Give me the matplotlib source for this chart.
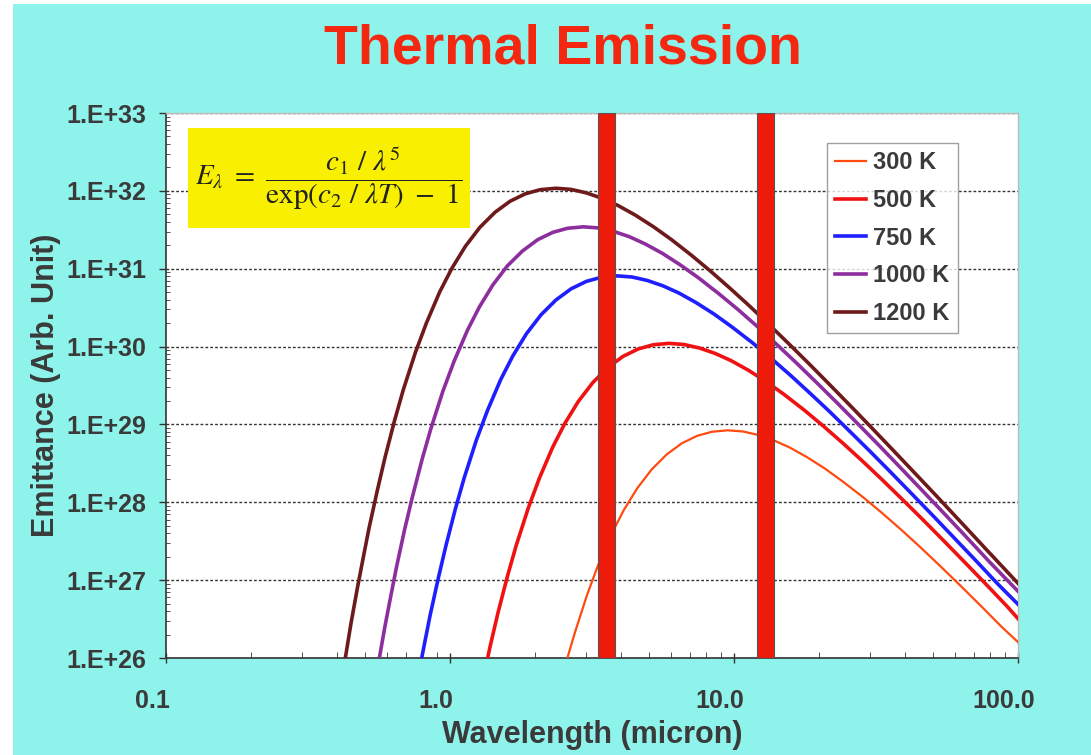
import matplotlib
matplotlib.use("Agg")
import matplotlib.pyplot as plt
import matplotlib.transforms as mtransforms
from matplotlib.patches import Rectangle
from matplotlib.ticker import FixedLocator, LogLocator, NullFormatter

#### -------- データ -------- ####
wl_300 = [2.59, 2.755, 3.04, 3.325, 3.705, 4.085, 4.56, 5.13, 5.795, 6.555, 7.41,
          8.36, 9.5, 10.74, 12.16, 13.78, 15.68, 18.05, 20.9, 24.2, 28.5, 33.25,
          38.95, 45.6, 53.2, 62.7, 74.1, 87.4, 100.0]
em_300 = [1.0e26, 2.14e26, 6.5e26, 1.57e27, 3.92e27, 7.85e27, 1.51e28, 2.64e28,
          4.12e28, 5.73e28, 7.13e28, 8.05e28, 8.4e28, 8.12e28, 7.33e28, 6.27e28,
          5.07e28, 3.81e28, 2.71e28, 1.84e28, 1.16e28, 7.26e27, 4.38e27, 2.59e27,
          1.52e27, 8.49e26, 4.65e26, 2.53e26, 1.6e26]

wl_500 = [1.357, 1.387, 1.475, 1.593, 1.711, 1.888, 2.065, 2.301, 2.537, 2.832,
          3.186, 3.599, 4.071, 4.602, 5.192, 5.9, 6.667, 7.552, 8.555, 9.735, 11.21,
          12.98, 15.05, 17.7, 20.65, 24.19, 28.32, 33.04, 38.94, 46.02, 54.28, 64.9,
          76.7, 91.45, 100.0]
em_500 = [1.0e26, 1.45e26, 3.79e26, 1.12e27, 2.8e27, 8.51e27, 2.05e28, 5.13e28,
          1.03e29, 1.98e29, 3.46e29, 5.4e29, 7.5e29, 9.33e29, 1.054e30, 1.1e30,
          1.063e30, 9.59e29, 8.2e29, 6.64e29, 4.99e29, 3.55e29, 2.41e29, 1.52e29,
          9.51e28, 5.73e28, 3.39e28, 1.99e28, 1.11e28, 6.08e27, 3.31e27, 1.7e27,
          9.06e26, 4.62e26, 3.2e26]

wl_750 = [0.795, 0.813, 0.851, 0.910, 0.968, 1.045, 1.122, 1.238, 1.355, 1.509,
          1.664, 1.858, 2.09, 2.361, 2.67, 3.019, 3.406, 3.87, 4.373, 4.954, 5.612,
          6.386, 7.353, 8.514, 9.869, 11.61, 13.55, 15.87, 18.58, 21.67, 25.54,
          30.19, 35.6, 42.57, 50.31, 60.0, 71.6, 85.14, 100.0]
em_750 = [1.0e26, 1.52e26, 3.53e26, 1.07e27, 2.79e27, 8.28e27, 2.06e28, 6.27e28,
          1.51e29, 3.78e29, 7.57e29, 1.46e30, 2.55e30, 3.97e30, 5.52e30, 6.87e30,
          7.76e30, 8.09e30, 7.83e30, 7.06e30, 6.04e30, 4.89e30, 3.67e30, 2.61e30,
          1.77e30, 1.12e30, 7.0e29, 4.22e29, 2.49e29, 1.47e29, 8.18e28, 4.48e28,
          2.44e28, 1.25e28, 6.67e27, 3.4e27, 1.73e27, 8.83e26, 4.9e26]

wl_1000 = [0.564, 0.590, 0.620, 0.649, 0.693, 0.738, 0.797, 0.856, 0.944, 1.033,
           1.151, 1.269, 1.416, 1.593, 1.80, 2.036, 2.301, 2.596, 2.95, 3.334,
           3.776, 4.278, 4.868, 5.605, 6.49, 7.523, 8.85, 10.33, 12.1, 14.16, 16.52,
           19.47, 23.01, 27.14, 32.45, 38.35, 45.73, 54.58, 64.9, 79.65, 100.0]
em_1000 = [1.0e26, 2.54e26, 6.49e26, 1.51e27, 4.56e27, 1.19e28, 3.53e28, 8.79e28,
           2.67e29, 6.44e29, 1.61e30, 3.23e30, 6.21e30, 1.09e31, 1.69e31, 2.36e31,
           2.93e31, 3.31e31, 3.45e31, 3.34e31, 3.01e31, 2.58e31, 2.08e31, 1.57e31,
           1.11e31, 7.57e30, 4.76e30, 2.99e30, 1.8e30, 1.06e30, 6.25e29, 3.49e29,
           1.91e29, 1.04e29, 5.35e28, 2.84e28, 1.45e28, 7.36e27, 3.77e27, 1.69e27,
           7.2e26]

wl_1200 = [0.428, 0.448, 0.472, 0.496, 0.519, 0.555, 0.590, 0.637, 0.684, 0.755,
           0.826, 0.920, 1.015, 1.133, 1.274, 1.44, 1.628, 1.841, 2.077, 2.36, 2.667,
           3.021, 3.422, 3.894, 4.484, 5.192, 6.018, 7.08, 8.26, 9.676, 11.33, 13.22,
           15.58, 18.41, 21.71, 25.96, 30.68, 36.58, 43.66, 51.92, 63.72, 77.88, 100.0]
em_1200 = [1.0e26, 2.77e26, 7.94e26, 2.03e27, 4.71e27, 1.43e28, 3.72e28, 1.1e29,
           2.75e29, 8.36e29, 2.01e30, 5.04e30, 1.01e31, 1.94e31, 3.4e31, 5.3e31,
           7.36e31, 9.16e31, 1.035e32, 1.08e32, 1.044e32, 9.42e31, 8.05e31, 6.52e31,
           4.9e31, 3.48e31, 2.37e31, 1.49e31, 9.33e30, 5.62e30, 3.33e30, 1.95e30,
           1.09e30, 5.97e29, 3.25e29, 1.67e29, 8.89e28, 4.54e28, 2.3e28, 1.18e28,
           5.3e27, 2.41e27, 9.1e26]

band_lo = [3.32, 12.05]
band_hi = [3.81, 13.8]

x_ticks = [0.1, 1.0, 10.0, 100.0]
x_ticklabels = ["0.1", "1.0", "10.0", "100.0"]
y_ticks = [1e26, 1e27, 1e28, 1e29, 1e30, 1e31, 1e32, 1e33]
y_ticklabels = ["1.E+26", "1.E+27", "1.E+28", "1.E+29",
                "1.E+30", "1.E+31", "1.E+32", "1.E+33"]

#### -------- グラフ設定 -------- ####
plt.rcParams["font.family"] = ["Liberation Sans", "DejaVu Sans"]
plt.rcParams["mathtext.fontset"] = "stix"

bg = "#8EF3EA"
txt = "#3A3A3A"

fig = plt.figure(figsize=(10.91, 7.55), dpi=100)
fig.patch.set_facecolor("white")
fig.patches.append(Rectangle((0.012, 0), 0.988, 0.995, transform=fig.transFigure,
                             facecolor=bg, edgecolor="none", zorder=-10))

ax = fig.add_axes([166 / 1091, 1 - 658 / 755, 852 / 1091, 545 / 755])
ax.set_facecolor("white")
ax.set_xscale("log")
ax.set_yscale("log")
ax.set_xlim(0.1, 100)
ax.set_ylim(1e26, 1e33)

#### -------- データをプロット -------- ####
series = [
    (wl_300, em_300, "300 K", "#FF4A10", 1.6),
    (wl_500, em_500, "500 K", "#F01212", 2.6),
    (wl_750, em_750, "750 K", "#1E1EFF", 2.6),
    (wl_1000, em_1000, "1000 K", "#8C2E9E", 2.6),
    (wl_1200, em_1200, "1200 K", "#6E1A1A", 2.6),
]
for wl, em, label, color, lw in series:
    ax.plot(wl, em, color=color, lw=lw, label=label, zorder=3)

for lo, hi in zip(band_lo, band_hi):
    ax.axvspan(lo, hi, facecolor="#EE1A0A", edgecolor="#555555", lw=0.8, zorder=4)

# 軸・目盛り
ax.yaxis.set_major_locator(FixedLocator(y_ticks))
ax.set_yticklabels(y_ticklabels, fontweight="bold")
ax.yaxis.set_minor_locator(LogLocator(base=10, subs=range(2, 10), numticks=20))
ax.yaxis.set_minor_formatter(NullFormatter())
ax.xaxis.set_major_locator(FixedLocator(x_ticks))
ax.set_xticklabels(x_ticklabels, fontweight="bold")
ax.xaxis.set_minor_locator(LogLocator(base=10, subs=range(2, 10), numticks=20))
ax.xaxis.set_minor_formatter(NullFormatter())

ax.tick_params(axis="y", which="major", direction="out", length=5, width=1,
               color="#333333", labelsize=18, labelcolor=txt, pad=9)
ax.tick_params(axis="y", which="minor", direction="in", length=3, color="#333333")
ax.tick_params(axis="x", which="major", direction="inout", length=7, width=1,
               color="#333333", labelsize=18, labelcolor=txt, pad=19)
ax.tick_params(axis="x", which="minor", direction="in", length=4, color="#333333")

offset = mtransforms.ScaledTranslation(-0.14, 0, fig.dpi_scale_trans)
for lab in ax.get_xticklabels():
    lab.set_transform(lab.get_transform() + offset)

ax.yaxis.grid(True, which="major", color="#333333", ls=(0, (2, 1.5)), lw=1, zorder=1)
ax.set_axisbelow(True)

for side in ["left", "bottom"]:
    ax.spines[side].set_color("#333333")
    ax.spines[side].set_linestyle((0, (1.5, 1)))
    ax.spines[side].set_linewidth(1.2)
for side in ["top", "right"]:
    ax.spines[side].set_color("#BBBBBB")
    ax.spines[side].set_linestyle((0, (1, 1)))
    ax.spines[side].set_linewidth(1)

ax.set_xlabel("Wavelength (micron)", fontsize=22, color=txt, fontweight="bold",
              labelpad=5)
ax.set_ylabel("Emittance (Arb. Unit)", fontsize=22, color=txt, fontweight="bold",
              labelpad=4)

# タイトル
fig.text(563 / 1091, 1 - 50 / 755, "Thermal Emission", fontsize=40, fontweight="bold",
         color="#F42810", ha="center", va="center")

# 数式ボックス
fig.patches.append(Rectangle((188 / 1091, 1 - 228 / 755), 282 / 1091, 100 / 755,
                             transform=fig.transFigure, facecolor="#F8F000",
                             edgecolor="none", zorder=5))
fig.text(329 / 1091, 1 - 178 / 755,
         r"$E_\lambda\ =\ \dfrac{c_1\ /\ \lambda^5}{\exp(c_2\ /\ \lambda T)\ -\ 1}$",
         fontsize=21, color="#222222", ha="center", va="center", zorder=6)

# 凡例
leg = ax.legend(loc="upper left", bbox_to_anchor=((827 - 166) / 852, (658 - 143) / 545),
                borderaxespad=0, frameon=True, fancybox=False,
                prop={"size": 17, "weight": "bold"},
                handlelength=1.3, handletextpad=0.3, labelspacing=0.62,
                borderpad=0.35)
leg.get_frame().set_edgecolor("#888888")
leg.get_frame().set_linewidth(1)
for t in leg.get_texts():
    t.set_color(txt)

fig.savefig("out.png", dpi=100, facecolor=fig.get_facecolor())
